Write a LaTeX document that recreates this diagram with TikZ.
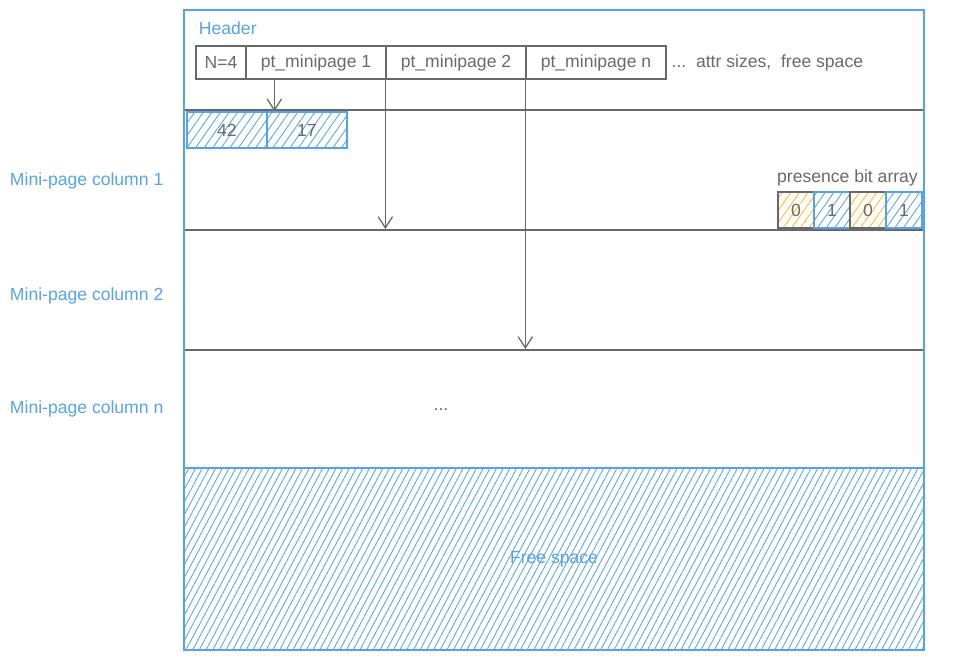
\documentclass[tikz,border=0pt]{standalone}
\usepackage{fontspec}
\setmainfont{Liberation Sans}
\usetikzlibrary{arrows.meta,patterns.meta}
\definecolor{skblue}{RGB}{86,163,236}
\definecolor{skgray}{RGB}{105,105,105}
\definecolor{skyellow}{RGB}{250,190,40}
\tikzset{
  every node/.style={font=\fontsize{12.5}{14}\selectfont, text=skgray},
  cell/.style={draw=skgray, line width=0.9pt, minimum height=0.825cm, inner sep=0pt},
  column/.style={draw=skgray, line width=1.4pt, minimum width=18.5cm, inner sep=0pt},
  hatchblue/.style={draw=skblue, line width=1.1pt, pattern={Lines[angle=55,distance=5pt,line width=0.6pt]}, pattern color=skblue},
  hatchyellow/.style={draw=skgray, line width=1.1pt, pattern={Lines[angle=55,distance=5pt,line width=0.6pt]}, pattern color=skyellow},
  bluelabel/.style={text=skblue}
}
\begin{document}
\begin{tikzpicture}[x=0.025cm, y=-0.025cm, >={Straight Barb[length=2.8mm,width=3.6mm]}]
         \useasboundingbox (0,0) rectangle (956,660);
         \node [column, minimum height=3cm] (COL1) at (554, 170) {};
         \node [column, minimum height=3cm] (COL2) at (554, 290) {};
         \node [column, minimum height=2.95cm] (COLN) at (554, 409) {};
         \node [draw=skblue, line width=1.1pt, pattern={Lines[angle=62,distance=4.2pt,line width=0.6pt]}, pattern color=skblue, minimum width=18.5cm, minimum height=4.55cm] (FREE) at (554, 559) {};
         \node [bluelabel] at (FREE) {Free space};
         \node [draw=skblue, line width=1.4pt, minimum width=18.5cm, minimum height=16cm] (PAGE) at (554, 330) {};
         \node [bluelabel, anchor=west] (HDR) at (194, 28) {Header};
         \node [cell, minimum width=1.25cm] (N) at (221, 62.5) {N=4};
         \node [cell, minimum width=3.5cm] (PT1) at (316, 62.5) {pt\_minipage 1};
         \node [cell, minimum width=3.5cm] (PT2) at (456, 62.5) {pt\_minipage 2};
         \node [cell, minimum width=3.5cm] (PTN) at (596, 62.5) {pt\_minipage n};
         \node [anchor=west] (REST) at (PTN.east) {...\ \ attr sizes,\ \ free space};
         \node [hatchblue, minimum width=2cm, minimum height=0.9cm] (V42) at (227, 130) {42};
         \node [hatchblue, minimum width=2cm, minimum height=0.9cm] (V17) at (307, 130) {17};
         \node [hatchyellow, minimum size=0.9cm] (B1) at (796, 210) {0};
         \node [hatchblue, minimum size=0.9cm] (B2) at (832, 210) {1};
         \node [hatchyellow, minimum size=0.9cm] (B3) at (868, 210) {0};
         \node [hatchblue, minimum size=0.9cm] (B4) at (904, 210) {1};
         \node [anchor=south east] (PBA) at (B4.north east) {presence bit array};
         \node [bluelabel, anchor=west] (L1) at (5, 181) {Mini-page column 1};
         \node [bluelabel, anchor=west] (L2) at (5, 296) {Mini-page column 2};
         \node [bluelabel, anchor=west] (LN) at (5, 409) {Mini-page column n};
         \node (DOTS) at (441, 410) {...};
         \draw [->, skgray, line width=0.9pt] ([xshift=0.725cm]PT1.south west) -- ([xshift=0.725cm]PT1.south west |- V17.north);
         \draw [->, skgray, line width=0.9pt] (PT2.south west) -- (PT2.south west |- COL2.north);
         \draw [->, skgray, line width=0.9pt] (PTN.south west) -- (PTN.south west |- COLN.north);
 \end{tikzpicture}
\end{document}
